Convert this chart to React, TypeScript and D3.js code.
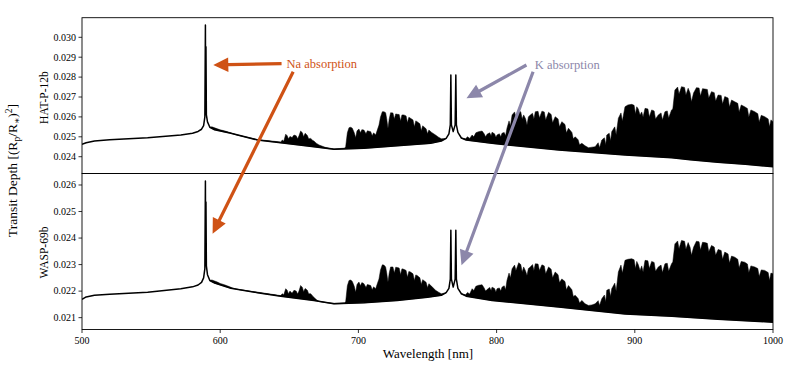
import React from 'react';
import * as d3 from 'd3';

type P = [number, number];

const xTicks = [500, 600, 700, 800, 900, 1000];
const hatTicks = [0.024, 0.025, 0.026, 0.027, 0.028, 0.029, 0.03];
const waspTicks = [0.021, 0.022, 0.023, 0.024, 0.025, 0.026];

// continuum with Na and K lines: [wavelength nm, transit depth]
const hatLine: P[] = [
  [500, 0.02462], [503, 0.0247], [509, 0.02479], [520, 0.02485], [547.5, 0.02495], [571.5, 0.02509],
  [580, 0.02518], [584, 0.02527], [586.5, 0.02538], [588, 0.02556], [588.9, 0.026], [589.3, 0.03062],
  [589.5, 0.0262], [589.7, 0.02953], [590.0, 0.0261], [590.8, 0.02575], [592.5, 0.02548], [596, 0.02535],
  [607.7, 0.02518], [627, 0.02484], [643.8, 0.0247], [667.8, 0.0245], [682.3, 0.02437], [704, 0.02442],
  [728.1, 0.02455], [752.2, 0.02467], [760, 0.02479], [763.5, 0.02492], [765.5, 0.02515], [766.5, 0.0256],
  [766.9, 0.02811], [767.3, 0.0256], [768.6, 0.02526], [770.0, 0.0256], [770.5, 0.02811], [770.9, 0.0256],
  [772, 0.02522], [774.5, 0.02494], [778, 0.02484], [796.7, 0.02467], [845, 0.02434], [893, 0.02409],
  [926.8, 0.02395], [940, 0.02385], [960, 0.02372], [980, 0.02362], [1000, 0.0235],
];
// upper envelope of the molecular band forest, between Na and K
const hatBandA: P[] = [
  [592.5, 0.02548], [594, 0.0255], [596, 0.02545], [598, 0.0254], [600, 0.02535], [603, 0.0253],
  [606, 0.02524], [609, 0.02516], [612, 0.02509], [627, 0.02486], [643.8, 0.02474], [645, 0.02484],
  [646, 0.02478], [647.4, 0.02513], [648.5, 0.02505], [649.3, 0.0249], [650.5, 0.02502], [652, 0.02496],
  [653.4, 0.02509], [655, 0.02505], [656, 0.0249], [657, 0.02505], [658.2, 0.02529], [659.5, 0.0252],
  [660.3, 0.025], [661.5, 0.02518], [663.1, 0.02506], [664, 0.0249], [665.5, 0.02492], [667, 0.02482],
  [667.8, 0.02479], [669.5, 0.02468], [671.5, 0.02459], [676, 0.02447], [682.3, 0.02439], [690, 0.02443],
  [690.8, 0.0245], [692, 0.0252], [693.2, 0.02546], [694.5, 0.02548], [695.6, 0.02543], [697, 0.0252],
  [698, 0.02495], [699, 0.0253], [700.4, 0.02539], [701.5, 0.0252], [702.5, 0.02536], [704, 0.02534],
  [705.5, 0.02515], [706.5, 0.0253], [708.9, 0.02526], [710, 0.02505], [711, 0.0252], [712.5, 0.02509],
  [713.5, 0.0253], [714.9, 0.02559], [716, 0.026], [717.3, 0.02626], [718.5, 0.02626], [719.7, 0.02621],
  [720.5, 0.0259], [721.4, 0.02543], [722.3, 0.0259], [723.3, 0.02621], [725, 0.0262], [726, 0.0259],
  [727, 0.02615], [728.1, 0.02613], [729.5, 0.02612], [730.5, 0.0258], [731.5, 0.0261], [732.9, 0.0261],
  [734.5, 0.02605], [735.5, 0.0257], [736.5, 0.02598], [737.7, 0.02593], [739.5, 0.02585], [740.5, 0.0255],
  [741.5, 0.0258], [742.5, 0.02576], [744.5, 0.02565], [745.5, 0.0253], [746.5, 0.02555], [747.3, 0.02551],
  [749, 0.0254], [750, 0.02515], [751, 0.02534], [753, 0.02522], [755.8, 0.02509], [758, 0.02498],
  [760, 0.0249], [763.5, 0.02492],
];
// upper envelope of the band forest, red of K
const hatBandB: P[] = [
  [774.5, 0.02494], [777.5, 0.0249], [779, 0.025], [780.5, 0.02492], [782.3, 0.02509], [783.5, 0.025],
  [785, 0.0252], [787, 0.02526], [789.5, 0.02529], [791, 0.02515], [792, 0.025], [793.1, 0.02513],
  [795, 0.0252], [796, 0.02505], [796.7, 0.02523], [798.5, 0.02515], [799.5, 0.02498], [800.3, 0.02509],
  [802, 0.02515], [803, 0.025], [803.9, 0.02518], [805.5, 0.02522], [806.5, 0.02505], [807.5, 0.02543],
  [809, 0.0258], [810, 0.02555], [811.2, 0.0261], [813, 0.02625], [814, 0.026], [816, 0.02634],
  [817.5, 0.02625], [818.5, 0.0259], [819.6, 0.0261], [821, 0.0259], [822, 0.02559], [823, 0.026],
  [824.4, 0.0261], [826, 0.02618], [827, 0.0259], [828, 0.02626], [830, 0.02628], [831, 0.02595],
  [832.8, 0.02629], [834.5, 0.02625], [835.5, 0.02585], [837.6, 0.02623], [839.5, 0.02612], [840.5, 0.0257],
  [842.4, 0.02601], [844.5, 0.0259], [845.5, 0.0255], [847.2, 0.02576], [849.5, 0.02562], [850.5, 0.0252],
  [852, 0.02543], [854.5, 0.02522], [855.5, 0.0249], [856.9, 0.025], [859, 0.02485], [860, 0.0246],
  [861.7, 0.02467], [864, 0.02455], [866.5, 0.02445], [869, 0.02448], [871.3, 0.0245], [873.5, 0.0247],
  [874.5, 0.02445], [876.1, 0.02484], [878, 0.02495], [879, 0.0246], [879.7, 0.02509], [881.5, 0.02518],
  [882.5, 0.0248], [883.3, 0.02526], [885.5, 0.0255], [886.5, 0.0251], [888.1, 0.02593], [890, 0.0262],
  [891, 0.0258], [892.9, 0.02651], [895, 0.0266], [897.8, 0.02663], [899.5, 0.02658], [900.5, 0.02615],
  [901.4, 0.02651], [902.5, 0.0264], [903.8, 0.0261], [905, 0.02625], [906, 0.026], [907.4, 0.02643],
  [909.5, 0.0264], [910.5, 0.026], [912.2, 0.02635], [914, 0.0263], [915, 0.0259], [917, 0.0261],
  [919, 0.0262], [920, 0.02585], [921.8, 0.02626], [923.5, 0.0263], [924.5, 0.02595], [926.6, 0.02635],
  [927.5, 0.0264], [929, 0.02735], [931, 0.0275], [932, 0.02715], [933.8, 0.02752], [936, 0.02748],
  [937, 0.0271], [938.6, 0.02744], [940, 0.0272], [941, 0.02676], [942.5, 0.0272], [944.6, 0.02747],
  [946.5, 0.02745], [947.5, 0.02705], [949, 0.02742], [950.7, 0.0274], [952.5, 0.02738], [953.5, 0.02695],
  [955.5, 0.02727], [957.5, 0.02722], [958.5, 0.0268], [960.3, 0.0271], [962.5, 0.02708], [963.5, 0.02665],
  [965.1, 0.02702], [967.5, 0.02695], [968.5, 0.0265], [970, 0.02685], [972.3, 0.02676], [974.5, 0.02668],
  [975.5, 0.02625], [977, 0.0266], [979.5, 0.02651], [981.5, 0.02642], [982.5, 0.026], [984, 0.02635],
  [986.8, 0.02626], [989, 0.02616], [990, 0.02575], [991.5, 0.02608], [994, 0.02601], [996.5, 0.0259],
  [997.5, 0.0255], [998.5, 0.02585], [1000, 0.02576],
];

const waspLine: P[] = [
  [500, 0.02169], [503, 0.02178], [509, 0.02184], [520, 0.02188], [547.5, 0.02196], [571.5, 0.02209],
  [580, 0.02216], [584, 0.02223], [586.5, 0.02233], [588, 0.0225], [588.9, 0.02285], [589.3, 0.02615],
  [589.5, 0.023], [589.7, 0.02536], [590.0, 0.02295], [590.8, 0.02262], [592.5, 0.0224], [596, 0.0223],
  [607.7, 0.02211], [627, 0.02194], [643.8, 0.02181], [667.8, 0.02165], [682.3, 0.02152], [704, 0.02156],
  [728.1, 0.02165], [750, 0.02177], [760, 0.02184], [763.5, 0.02194], [765.5, 0.0221], [766.5, 0.02245],
  [766.9, 0.02429], [767.3, 0.02245], [768.6, 0.02215], [770.0, 0.02245], [770.5, 0.02429], [770.9, 0.02245],
  [772, 0.0221], [774.5, 0.0219], [778, 0.02181], [796.7, 0.02165], [845, 0.0214], [893, 0.02114],
  [926.8, 0.02105], [960, 0.02094], [1000, 0.02083],
];
const waspBandA: P[] = [
  [592.5, 0.0224], [594, 0.02242], [596, 0.02238], [598, 0.02234], [600, 0.02229], [603, 0.02224],
  [606, 0.02218], [609, 0.02212], [612, 0.02207], [627, 0.02196], [643.8, 0.02183], [644.9, 0.0219],
  [646, 0.02186], [647.4, 0.02209], [648.5, 0.02203], [649.3, 0.0219], [650.5, 0.022], [652, 0.02192],
  [653.4, 0.02203], [655, 0.022], [656, 0.02189], [657, 0.022], [658.2, 0.02221], [659.5, 0.02214],
  [660.3, 0.02198], [661.5, 0.0221], [663.1, 0.02203], [664, 0.0219], [665.5, 0.0219], [667, 0.02181],
  [667.8, 0.02177], [669.5, 0.02168], [671.5, 0.02161], [676, 0.02157], [682.3, 0.02154], [690, 0.02156],
  [690.8, 0.0216], [692, 0.0222], [693.2, 0.0224], [694.5, 0.02242], [695.6, 0.02236], [697, 0.02218],
  [698, 0.02196], [699, 0.02225], [700.4, 0.02234], [701.5, 0.0222], [702.5, 0.02232], [704, 0.02228],
  [705.5, 0.02214], [706.5, 0.02225], [708.9, 0.02221], [710, 0.02205], [711, 0.02216], [712.5, 0.02209],
  [713.5, 0.02225], [714.9, 0.02246], [716, 0.0228], [717.3, 0.02299], [718.5, 0.02298], [719.7, 0.02291],
  [720.5, 0.02268], [721.4, 0.02234], [722.3, 0.02268], [723.3, 0.02291], [725, 0.02291], [726, 0.02268],
  [727, 0.0229], [728.1, 0.02289], [729.5, 0.02287], [730.5, 0.02262], [731.5, 0.02284], [732.9, 0.02282],
  [734.5, 0.02278], [735.5, 0.02252], [736.5, 0.02274], [737.7, 0.02272], [739.5, 0.02265], [740.5, 0.0224],
  [741.5, 0.02261], [742.5, 0.02259], [744.5, 0.0225], [745.5, 0.02225], [746.5, 0.02243], [747.3, 0.0224],
  [749, 0.02233], [750, 0.02213], [751, 0.02228], [753, 0.02218], [755.8, 0.02203], [758, 0.02196],
  [760, 0.0219], [763.5, 0.02194],
];
const waspBandB: P[] = [
  [774.5, 0.0219], [777.5, 0.02186], [779, 0.02195], [780.5, 0.02189], [782.3, 0.02209], [783.5, 0.02202],
  [785, 0.02218], [787, 0.02222], [789.5, 0.02224], [791, 0.02212], [792, 0.022], [793.1, 0.02206],
  [795, 0.02214], [796, 0.02202], [796.7, 0.02215], [798.5, 0.0221], [799.5, 0.02197], [800.3, 0.02209],
  [802, 0.02212], [803, 0.022], [803.9, 0.02215], [805.5, 0.0222], [806.5, 0.02205], [807.5, 0.0224],
  [809, 0.02268], [810, 0.0225], [811.2, 0.02284], [813, 0.02298], [814, 0.02278], [816, 0.02307],
  [817.5, 0.023], [818.5, 0.02272], [819.6, 0.02291], [821, 0.02275], [822, 0.02259], [823, 0.02285],
  [824.4, 0.02291], [826, 0.023], [827, 0.02278], [828, 0.02303], [830, 0.02302], [831, 0.02278],
  [832.8, 0.02299], [834.5, 0.02295], [835.5, 0.02265], [837.6, 0.02291], [839.5, 0.02282], [840.5, 0.0225],
  [842.4, 0.02272], [844.5, 0.02262], [845.5, 0.02232], [847.2, 0.02246], [849.5, 0.02236], [850.5, 0.02205],
  [852, 0.02221], [854.5, 0.02205], [855.5, 0.0218], [856.9, 0.02184], [859, 0.02172], [860, 0.02155],
  [861.7, 0.02165], [864, 0.02152], [866.5, 0.02146], [869, 0.02148], [871.3, 0.02152], [873.5, 0.02164],
  [874.5, 0.02146], [876.1, 0.02171], [878, 0.02185], [879, 0.0216], [879.7, 0.02203], [881.5, 0.02208],
  [882.5, 0.0218], [883.3, 0.02209], [885.5, 0.0223], [886.5, 0.022], [888.1, 0.02272], [890, 0.02298],
  [891, 0.02268], [892.9, 0.02316], [895, 0.0232], [897.8, 0.02322], [899.5, 0.02318], [900.5, 0.02285],
  [901.4, 0.02312], [902.5, 0.023], [903.8, 0.02278], [905, 0.02295], [906, 0.02272], [907.4, 0.02316],
  [909.5, 0.02314], [910.5, 0.02285], [912.2, 0.02312], [914, 0.02308], [915, 0.02275], [917, 0.02291],
  [919, 0.02298], [920, 0.0227], [921.8, 0.02303], [923.5, 0.02305], [924.5, 0.02275], [926.6, 0.02303],
  [927.5, 0.0231], [929, 0.02378], [931, 0.02389], [932, 0.0236], [933.8, 0.02391], [936, 0.02388],
  [937, 0.02358], [938.6, 0.02383], [940, 0.02365], [941, 0.02335], [942.5, 0.02365], [944.6, 0.02388],
  [946.5, 0.02386], [947.5, 0.02355], [949, 0.02384], [950.7, 0.02383], [952.5, 0.0238], [953.5, 0.02348],
  [955.5, 0.02372], [957.5, 0.02366], [958.5, 0.02335], [960.3, 0.02357], [962.5, 0.02353], [963.5, 0.0232],
  [965.1, 0.02347], [967.5, 0.0234], [968.5, 0.02306], [970, 0.02332], [972.3, 0.02328], [974.5, 0.0232],
  [975.5, 0.02288], [977, 0.02312], [979.5, 0.02309], [981.5, 0.02302], [982.5, 0.0227], [984, 0.02295],
  [986.8, 0.02291], [989, 0.02285], [990, 0.02255], [991.5, 0.0228], [994, 0.02278], [996.5, 0.0227],
  [997.5, 0.0224], [998.5, 0.02268], [1000, 0.02265],
];

const NA_COLOR = '#cf5215';
const K_COLOR = '#8c87aa';

const W = 789, H = 379;
const L = 82, R = 773;
const TOP0 = 17.7, MID = 173.5, BOT = 329.5;

const x = d3.scaleLinear().domain([500, 1000]).range([L, R]);
const yHat = d3.scaleLinear().domain([0.023156, 0.030985]).range([MID, TOP0]);
const yWasp = d3.scaleLinear().domain([0.020553, 0.026433]).range([BOT, MID]);

function bandPath(band: P[], line: P[], y: d3.ScaleLinear<number, number>) {
  const w0 = band[0][0], w1 = band[band.length - 1][0];
  const lower = line.filter(p => p[0] >= w0 && p[0] <= w1).reverse();
  const gen = d3.line<P>().x(d => x(d[0])).y(d => y(d[1]));
  return gen([...band, ...lower]) + 'Z';
}

function arrowPoly(x1: number, y1: number, x2: number, y2: number) {
  const dx = x2 - x1, dy = y2 - y1;
  const len = Math.hypot(dx, dy);
  const ux = dx / len, uy = dy / len;
  const nx = -uy, ny = ux;
  const sw = 1.6, hw = 7.2, hl = 15;
  const bx = x2 - ux * hl, by = y2 - uy * hl;
  const pts = [
    [x1 + nx * sw, y1 + ny * sw],
    [bx + nx * sw, by + ny * sw],
    [bx + nx * hw, by + ny * hw],
    [x2, y2],
    [bx - nx * hw, by - ny * hw],
    [bx - nx * sw, by - ny * sw],
    [x1 - nx * sw, y1 - ny * sw],
  ];
  return 'M' + pts.map(p => p[0].toFixed(2) + ',' + p[1].toFixed(2)).join('L') + 'Z';
}

const FONT = "'Liberation Serif', 'DejaVu Serif', serif";

export default function App() {
  const lineGen = (y: d3.ScaleLinear<number, number>) => d3.line<P>().x(d => x(d[0])).y(d => y(d[1]));

  const annotations = [
    { text: 'Na absorption', color: NA_COLOR, tx: 648.0, td: 0.02868,
      arrows: [
        { w1: 644.4, d1: 0.02868, w2: 595.0, d2: 0.028608, panel: 'hat' },
        { w1: 652.8, d1: 0.028271, w2: 594.5, d2: 0.024164, panel: 'wasp' },
      ] },
    { text: 'K absorption', color: K_COLOR, tx: 827.6, td: 0.02863,
      arrows: [
        { w1: 821.6, d1: 0.028608, w2: 778.2, d2: 0.026935, panel: 'hat' },
        { w1: 826.4, d1: 0.028271, w2: 774.6, d2: 0.022973, panel: 'wasp' },
      ] },
  ];

  return (
    <svg width={W} height={H} style={{ position: 'absolute', left: 0, top: 0, background: '#fff' }}
      fontFamily={FONT}>
      <rect x={0} y={0} width={W} height={H} fill="#fff" />
      <defs>
        <clipPath id="cTop"><rect x={L} y={TOP0} width={R - L} height={MID - TOP0} /></clipPath>
        <clipPath id="cBot"><rect x={L} y={MID} width={R - L} height={BOT - MID} /></clipPath>
      </defs>

      <g clipPath="url(#cTop)">
        <path d={bandPath(hatBandA, hatLine, yHat)} fill="#000" stroke="#000" strokeWidth={0.5} />
        <path d={bandPath(hatBandB, hatLine, yHat)} fill="#000" stroke="#000" strokeWidth={0.5} />
        <path d={lineGen(yHat)(hatLine) || ''} fill="none" stroke="#000" strokeWidth={1.5} strokeLinejoin="round" />
      </g>
      <g clipPath="url(#cBot)">
        <path d={bandPath(waspBandA, waspLine, yWasp)} fill="#000" stroke="#000" strokeWidth={0.5} />
        <path d={bandPath(waspBandB, waspLine, yWasp)} fill="#000" stroke="#000" strokeWidth={0.5} />
        <path d={lineGen(yWasp)(waspLine) || ''} fill="none" stroke="#000" strokeWidth={1.5} strokeLinejoin="round" />
      </g>

      <rect x={L} y={TOP0} width={R - L} height={MID - TOP0} fill="none" stroke="#000" strokeWidth={0.9} />
      <rect x={L} y={MID} width={R - L} height={BOT - MID} fill="none" stroke="#000" strokeWidth={0.9} />

      {hatTicks.map(t => (
        <g key={'h' + t}>
          <line x1={L - 3.5} x2={L} y1={yHat(t)} y2={yHat(t)} stroke="#000" strokeWidth={0.8} />
          <text x={L - 6} y={yHat(t)} dy="0.33em" textAnchor="end" fontSize={10}>{d3.format('.3f')(t)}</text>
        </g>
      ))}
      {waspTicks.map(t => (
        <g key={'w' + t}>
          <line x1={L - 3.5} x2={L} y1={yWasp(t)} y2={yWasp(t)} stroke="#000" strokeWidth={0.8} />
          <text x={L - 6} y={yWasp(t)} dy="0.33em" textAnchor="end" fontSize={10}>{d3.format('.3f')(t)}</text>
        </g>
      ))}
      {xTicks.map(t => (
        <g key={'x' + t}>
          <line x1={x(t)} x2={x(t)} y1={BOT} y2={BOT + 3.5} stroke="#000" strokeWidth={0.8} />
          <text x={x(t)} y={BOT + 14} textAnchor="middle" fontSize={10}>{t}</text>
        </g>
      ))}

      <text x={428} y={358} textAnchor="middle" fontSize={13}>Wavelength [nm]</text>
      <text transform={`translate(48,${(TOP0 + MID) / 2 + 2}) rotate(-90)`} textAnchor="middle" fontSize={11.5}>HAT-P-12b</text>
      <text transform={`translate(48,${(MID + BOT) / 2 + 1}) rotate(-90)`} textAnchor="middle" fontSize={11.5}>WASP-69b</text>
      <text transform={`translate(17,${MID - 3}) rotate(-90)`} textAnchor="middle" fontSize={13.5}>
        Transit Depth [(R<tspan fontSize={9.5} dy={3}>p</tspan><tspan dy={-3}>/R</tspan><tspan fontSize={9.5} dy={3}>∗</tspan><tspan dy={-3}>)</tspan><tspan fontSize={9.5} dy={-5}>2</tspan><tspan dy={5}>]</tspan>
      </text>

      {annotations.map(a => (
        <g key={a.text}>
          {a.arrows.map((ar, i) => {
            const y2 = ar.panel === 'hat' ? yHat(ar.d2) : yWasp(ar.d2);
            return <path key={i} d={arrowPoly(x(ar.w1), yHat(ar.d1), x(ar.w2), y2)} fill={a.color} />;
          })}
          <text x={x(a.tx)} y={yHat(a.td)} dy="0.33em" fontSize={12.5} fill={a.color}>{a.text}</text>
        </g>
      ))}
    </svg>
  );
}
